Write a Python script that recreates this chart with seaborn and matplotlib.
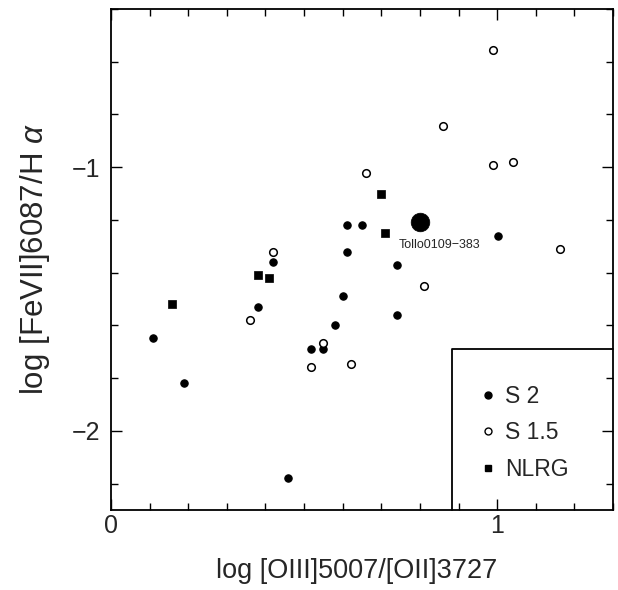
import matplotlib
matplotlib.use("Agg")
import matplotlib.pyplot as plt
import seaborn as sns
import pandas as pd
from matplotlib.ticker import MultipleLocator, FuncFormatter
from matplotlib.lines import Line2D

s2_x = [0.109, 0.190, 0.380, 0.419, 0.459, 0.519, 0.550, 0.580, 0.600, 0.610, 0.610, 0.650, 0.741, 0.741, 1.003]
s2_y = [-1.649, -1.817, -1.529, -1.360, -2.177, -1.689, -1.689, -1.599, -1.490, -1.220, -1.321, -1.220, -1.371, -1.559, -1.260]

s15_x = [0.359, 0.419, 0.519, 0.550, 0.621, 0.659, 0.810, 0.860, 0.990, 0.990, 1.041, 1.162]
s15_y = [-1.580, -1.321, -1.758, -1.668, -1.748, -1.021, -1.450, -0.843, -0.555, -0.992, -0.982, -1.311]

nlrg_x = [0.159, 0.380, 0.409, 0.700, 0.710]
nlrg_y = [-1.519, -1.410, -1.420, -1.100, -1.249]

tol_x = [0.801]
tol_y = [-1.207]
tol_label = "Tollo0109\u2212383"

legend_labels = ["S 2", "S 1.5", "NLRG"]

sns.set_theme(style="white")
plt.rcParams['font.family'] = ['Liberation Sans', 'DejaVu Sans']
plt.rcParams['mathtext.fontset'] = 'custom'
plt.rcParams['mathtext.it'] = 'Liberation Sans:italic'

fig = plt.figure(figsize=(6.18, 5.90), dpi=100)
ax = fig.add_axes([0.1796, 0.1356, 0.8124, 0.8491])

df2 = pd.DataFrame({"x": s2_x, "y": s2_y})
df15 = pd.DataFrame({"x": s15_x, "y": s15_y})
dfn = pd.DataFrame({"x": nlrg_x, "y": nlrg_y})
dft = pd.DataFrame({"x": tol_x, "y": tol_y})

sns.scatterplot(data=df2, x="x", y="y", ax=ax, marker="o", s=28, color="black",
                edgecolor="black", linewidth=0.8, legend=False, zorder=3)
sns.scatterplot(data=df15, x="x", y="y", ax=ax, marker="o", s=30, color="white",
                edgecolor="black", linewidth=1.1, legend=False, zorder=3)
sns.scatterplot(data=dfn, x="x", y="y", ax=ax, marker="s", s=28, color="black",
                edgecolor="black", linewidth=0.5, legend=False, zorder=3)
sns.scatterplot(data=dft, x="x", y="y", ax=ax, marker="o", s=180, color="black",
                edgecolor="black", linewidth=0.5, legend=False, zorder=3)
ax.text(tol_x[0] + 0.05, tol_y[0] - 0.088, tol_label, fontsize=9, ha="center", va="center")

ax.set_xlim(0, 1.3)
ax.set_ylim(-2.3, -0.4)
ax.xaxis.set_major_locator(MultipleLocator(1))
ax.xaxis.set_minor_locator(MultipleLocator(0.1))
ax.yaxis.set_major_locator(MultipleLocator(1))
ax.yaxis.set_minor_locator(MultipleLocator(0.2))
fmt = FuncFormatter(lambda v, p: f"{v:.0f}".replace("-", "\u2212"))
ax.xaxis.set_major_formatter(fmt)
ax.yaxis.set_major_formatter(fmt)
ax.tick_params(which="both", direction="in", top=True, right=True, bottom=True, left=True,
               color="black", width=1.0, labelsize=18)
ax.tick_params(axis="x", which="major", pad=3)
ax.tick_params(axis="y", which="major", pad=8)
ax.tick_params(which="major", length=8)
ax.tick_params(which="minor", length=5)
for sp in ax.spines.values():
    sp.set_color("black")
    sp.set_linewidth(1.3)

ax.set_xlabel("log [OIII]5007/[OII]3727", fontsize=19.5, labelpad=14)
ax.xaxis.set_label_coords(0.49, -0.095)
ax.set_ylabel(r"log [FeVII]6087/H $\alpha$", fontsize=22.5, labelpad=14)

# legend box
ax.plot([0.884, 0.884, 1.3], [-2.3, -1.689, -1.689], color="black", lw=1.3, zorder=4, clip_on=False)

handles = [
    Line2D([], [], marker="o", linestyle="none", markersize=5, markerfacecolor="black", markeredgecolor="black"),
    Line2D([], [], marker="o", linestyle="none", markersize=5, markerfacecolor="white", markeredgecolor="black", markeredgewidth=1.0),
    Line2D([], [], marker="s", linestyle="none", markersize=5, markerfacecolor="black", markeredgecolor="black"),
]
ax.legend(handles, legend_labels, loc="center left", bbox_to_anchor=(0.691, 0.154), frameon=False,
          fontsize=16.5, handletextpad=0.15, labelspacing=0.6, handlelength=1.2, borderpad=0.2)

fig.savefig("out.png", dpi=100, facecolor="white")
